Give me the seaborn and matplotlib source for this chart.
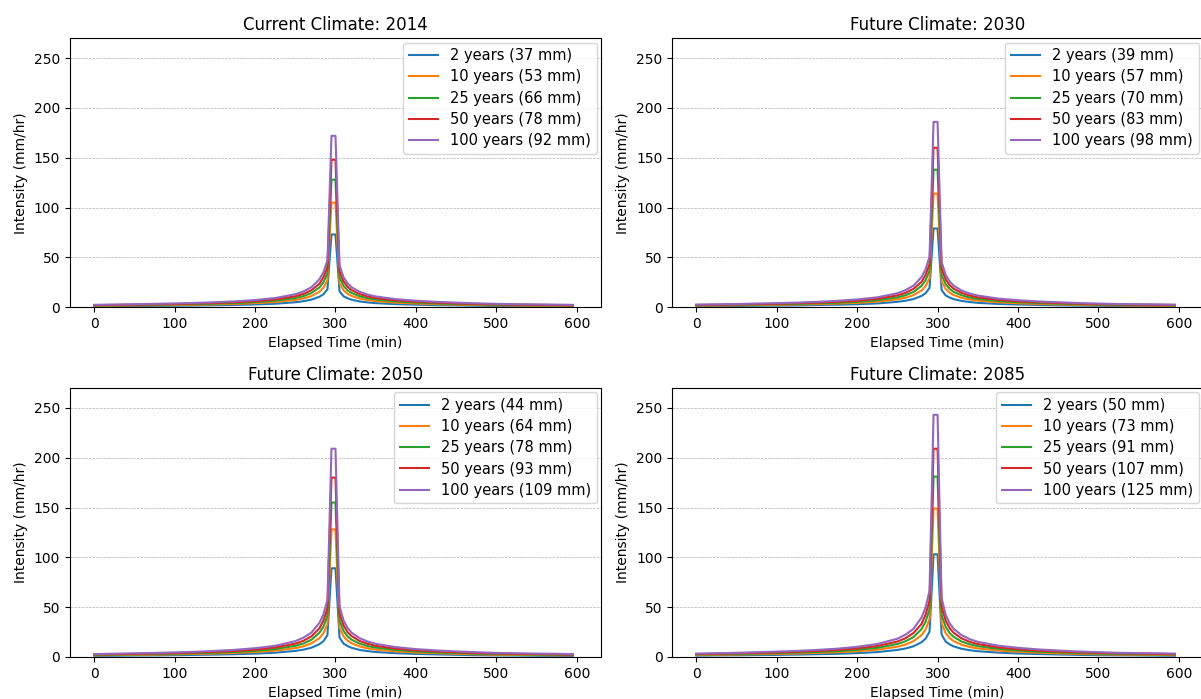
import matplotlib
matplotlib.use("Agg")
import matplotlib.pyplot as plt
import seaborn as sns
import pandas as pd

# Elapsed time (min)
time_min = [0, 25, 50, 75, 100, 125, 150, 175, 200, 225, 250, 260, 270, 280, 285, 290,
            295, 300, 305, 310, 315, 320, 330, 340, 350, 375, 400, 425, 450, 475, 500,
            525, 550, 575, 595]

return_periods = ["2 years", "10 years", "25 years", "50 years", "100 years"]

titles = ["Current Climate: 2014", "Future Climate: 2030",
          "Future Climate: 2050", "Future Climate: 2085"]

depths_2014 = [37, 53, 66, 78, 92]
depths_2030 = [39, 57, 70, 83, 98]
depths_2050 = [44, 64, 78, 93, 109]
depths_2085 = [50, 73, 91, 107, 125]

# ---- 2014 ----
i2014_2 = [1.0, 1.1, 1.2, 1.35, 1.5, 1.7, 2.0, 2.3, 2.8, 3.5, 5.0, 6.0, 7.6, 10.5, 13, 18, 73, 73, 16, 11, 9, 7.5, 5.8, 4.8, 4.1, 3.1, 2.5, 2.1, 1.8, 1.5, 1.3, 1.2, 1.1, 1.0, 0.9]
i2014_10 = [1.5, 1.6, 1.8, 2.0, 2.2, 2.5, 2.9, 3.4, 4.1, 5.2, 7.3, 8.8, 11.2, 15.5, 19.5, 27, 105, 105, 24, 17, 13.5, 11.3, 8.7, 7.1, 6.1, 4.6, 3.7, 3.1, 2.6, 2.2, 1.9, 1.7, 1.6, 1.5, 1.4]
i2014_25 = [1.8, 2.0, 2.2, 2.5, 2.8, 3.1, 3.6, 4.2, 5.1, 6.5, 9.2, 11.1, 14.2, 19.8, 25, 34, 128, 128, 30, 21.5, 17, 14.3, 11, 9.0, 7.7, 5.8, 4.6, 3.8, 3.3, 2.8, 2.4, 2.2, 2.0, 1.9, 1.7]
i2014_50 = [2.1, 2.3, 2.6, 2.9, 3.2, 3.7, 4.3, 5.0, 6.1, 7.8, 11, 13.3, 17, 23.5, 30, 40, 148, 148, 36, 26, 20.5, 17.2, 13.2, 10.8, 9.2, 6.9, 5.5, 4.6, 3.9, 3.3, 2.9, 2.6, 2.4, 2.2, 2.0]
i2014_100 = [2.4, 2.7, 3.0, 3.4, 3.8, 4.3, 5.0, 5.9, 7.2, 9.2, 13, 15.8, 20, 28, 35, 47, 172, 172, 42, 30, 24, 20, 15.5, 12.7, 10.8, 8.1, 6.5, 5.4, 4.6, 3.9, 3.4, 3.0, 2.8, 2.6, 2.4]

# ---- 2030 ----
i2030_2 = [1.1, 1.2, 1.3, 1.5, 1.6, 1.8, 2.2, 2.5, 3.0, 3.8, 5.4, 6.5, 8.2, 11.3, 14, 19.4, 79, 79, 17.3, 11.9, 9.7, 8.1, 6.3, 5.2, 4.4, 3.3, 2.7, 2.3, 1.9, 1.6, 1.4, 1.3, 1.2, 1.1, 1.0]
i2030_10 = [1.6, 1.7, 1.9, 2.2, 2.4, 2.7, 3.1, 3.7, 4.4, 5.6, 7.9, 9.5, 12.1, 16.7, 21, 29.2, 114, 114, 25.9, 18.4, 14.6, 12.2, 9.4, 7.7, 6.6, 5.0, 4.0, 3.3, 2.8, 2.4, 2.1, 1.8, 1.7, 1.6, 1.5]
i2030_25 = [1.9, 2.2, 2.4, 2.7, 3.0, 3.3, 3.9, 4.5, 5.5, 7.0, 9.9, 12, 15.3, 21.4, 27, 36.7, 138, 138, 32.4, 23.2, 18.4, 15.4, 11.9, 9.7, 8.3, 6.3, 5.0, 4.1, 3.6, 3.0, 2.6, 2.4, 2.2, 2.1, 1.8]
i2030_50 = [2.3, 2.5, 2.8, 3.1, 3.5, 4.0, 4.6, 5.4, 6.6, 8.4, 11.9, 14.4, 18.4, 25.4, 32.4, 43.2, 160, 160, 38.9, 28.1, 22.1, 18.6, 14.3, 11.7, 9.9, 7.5, 5.9, 5.0, 4.2, 3.6, 3.1, 2.8, 2.6, 2.4, 2.2]
i2030_100 = [2.6, 2.9, 3.2, 3.7, 4.1, 4.6, 5.4, 6.4, 7.8, 9.9, 14, 17.1, 21.6, 30.2, 37.8, 50.8, 186, 186, 45.4, 32.4, 25.9, 21.6, 16.7, 13.7, 11.7, 8.7, 7.0, 5.8, 5.0, 4.2, 3.7, 3.2, 3.0, 2.8, 2.6]

# ---- 2050 ----
i2050_2 = [1.2, 1.3, 1.5, 1.6, 1.8, 2.1, 2.4, 2.8, 3.4, 4.3, 6.1, 7.3, 9.3, 12.8, 15.9, 22, 89, 89, 19.5, 13.4, 11, 9.2, 7.1, 5.9, 5.0, 3.8, 3.1, 2.6, 2.2, 1.8, 1.6, 1.5, 1.3, 1.2, 1.1]
i2050_10 = [1.8, 2.0, 2.2, 2.4, 2.7, 3.1, 3.5, 4.1, 5.0, 6.3, 8.9, 10.7, 13.7, 18.9, 23.8, 32.9, 128, 128, 29.3, 20.7, 16.5, 13.8, 10.6, 8.7, 7.4, 5.6, 4.5, 3.8, 3.2, 2.7, 2.3, 2.1, 2.0, 1.8, 1.7]
i2050_25 = [2.2, 2.4, 2.7, 3.1, 3.4, 3.8, 4.4, 5.1, 6.2, 7.9, 11.2, 13.5, 17.3, 24.2, 30.5, 41.5, 155, 155, 36.6, 26.2, 20.7, 17.4, 13.4, 11, 9.4, 7.1, 5.6, 4.6, 4.0, 3.4, 2.9, 2.7, 2.4, 2.3, 2.1]
i2050_50 = [2.6, 2.8, 3.2, 3.5, 3.9, 4.5, 5.2, 6.1, 7.4, 9.5, 13.4, 16.2, 20.7, 28.7, 36.6, 48.8, 180, 180, 43.9, 31.7, 25, 21, 16.1, 13.2, 11.2, 8.4, 6.7, 5.6, 4.8, 4.0, 3.5, 3.2, 2.9, 2.7, 2.4]
i2050_100 = [2.9, 3.3, 3.7, 4.1, 4.6, 5.2, 6.1, 7.2, 8.8, 11.2, 15.9, 19.3, 24.4, 34.2, 42.7, 57.3, 209, 209, 51.2, 36.6, 29.3, 24.4, 18.9, 15.5, 13.2, 9.9, 7.9, 6.6, 5.6, 4.8, 4.1, 3.7, 3.4, 3.2, 2.9]

# ---- 2085 ----
i2085_2 = [1.4, 1.6, 1.7, 1.9, 2.1, 2.4, 2.8, 3.2, 3.9, 4.9, 7.1, 8.5, 10.7, 14.8, 18.3, 25.4, 103, 103, 22.6, 15.5, 12.7, 10.6, 8.2, 6.8, 5.8, 4.4, 3.5, 3.0, 2.5, 2.1, 1.8, 1.7, 1.6, 1.4, 1.3]
i2085_10 = [2.1, 2.3, 2.5, 2.8, 3.1, 3.5, 4.1, 4.8, 5.8, 7.3, 10.3, 12.4, 15.8, 21.9, 27.5, 38.1, 149, 149, 33.8, 24, 19, 15.9, 12.3, 10, 8.6, 6.5, 5.2, 4.4, 3.7, 3.1, 2.7, 2.4, 2.3, 2.1, 2.0]
i2085_25 = [2.5, 2.8, 3.1, 3.5, 3.9, 4.4, 5.1, 5.9, 7.2, 9.2, 13, 15.7, 20, 27.9, 35.3, 47.9, 181, 181, 42.3, 30.3, 24, 20.2, 15.5, 12.7, 10.9, 8.2, 6.5, 5.4, 4.7, 3.9, 3.4, 3.1, 2.8, 2.7, 2.4]
i2085_50 = [3.0, 3.2, 3.7, 4.1, 4.5, 5.2, 6.1, 7.1, 8.6, 11, 15.5, 18.8, 24, 33.1, 42.3, 56.4, 209, 209, 50.8, 36.7, 28.9, 24.3, 18.6, 15.2, 13, 9.7, 7.8, 6.5, 5.5, 4.7, 4.1, 3.7, 3.4, 3.1, 2.8]
i2085_100 = [3.4, 3.8, 4.2, 4.8, 5.4, 6.1, 7.1, 8.3, 10.2, 13, 18.3, 22.3, 28.2, 39.5, 49.4, 66.3, 243, 243, 59.2, 42.3, 33.8, 28.2, 21.9, 17.9, 15.2, 11.4, 9.2, 7.6, 6.5, 5.5, 4.8, 4.2, 3.9, 3.7, 3.4]

panels = [
    (titles[0], depths_2014, [i2014_2, i2014_10, i2014_25, i2014_50, i2014_100]),
    (titles[1], depths_2030, [i2030_2, i2030_10, i2030_25, i2030_50, i2030_100]),
    (titles[2], depths_2050, [i2050_2, i2050_10, i2050_25, i2050_50, i2050_100]),
    (titles[3], depths_2085, [i2085_2, i2085_10, i2085_25, i2085_50, i2085_100]),
]

colors = sns.color_palette("tab10", 5)

fig, axes = plt.subplots(2, 2, figsize=(12.01, 6.99), dpi=100)
fig.subplots_adjust(left=0.0583, right=1.0017, top=0.9454, bottom=0.0601,
                    wspace=0.134, hspace=0.30)

for ax, (title, depths, series) in zip(axes.flat, panels):
    for rp, d, vals, c in zip(return_periods, depths, series, colors):
        df = pd.DataFrame({"t": time_min, "i": vals})
        sns.lineplot(data=df, x="t", y="i", ax=ax, color=c, linewidth=1.5,
                     estimator=None, label=f"{rp} ({d} mm)")
    ax.set_title(title, fontsize=12)
    ax.set_xlabel("Elapsed Time (min)", fontsize=10)
    ax.set_ylabel("Intensity (mm/hr)", fontsize=10)
    ax.set_xlim(-30, 630)
    ax.set_ylim(0, 270)
    ax.set_xticks([0, 100, 200, 300, 400, 500, 600])
    ax.set_yticks([0, 50, 100, 150, 200, 250])
    ax.grid(axis="y", linestyle="--", linewidth=0.5, color="#b0b0b0")
    ax.set_axisbelow(True)
    ax.legend(loc="upper right", fontsize=10.5, labelspacing=0.42,
              borderaxespad=0.3)

fig.savefig("out.png", dpi=100)
